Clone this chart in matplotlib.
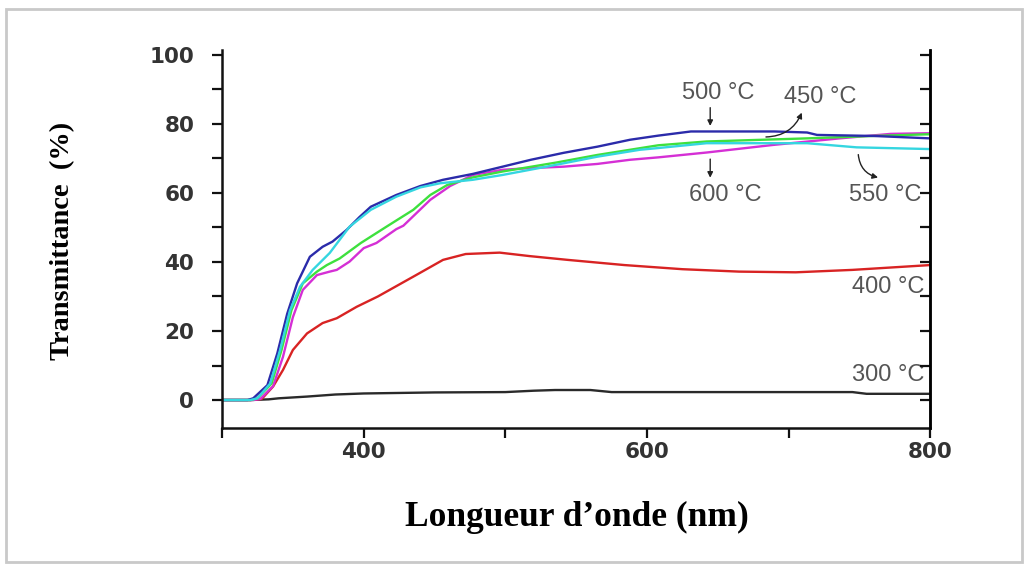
import matplotlib
matplotlib.use('Agg')
import matplotlib.pyplot as plt
import matplotlib.patches as mpatches
from matplotlib.ticker import MultipleLocator

# Wavelength (nm) and transmittance (%), one curve per
# annealing temperature.
wl_300 = [300, 320, 333, 340, 360, 380, 400, 450, 500, 520, 535, 560, 575, 700, 745, 755, 800]
tr_300 = [0, 0, 0.2, 0.5, 1.0, 1.6, 1.9, 2.2, 2.3, 2.7, 2.9, 2.9, 2.3, 2.3, 2.3, 1.8, 1.8]

wl_400 = [300, 320, 328, 336, 343, 350, 360, 371, 381, 395, 410, 437, 456, 472, 496,
          517, 544, 584, 625, 665, 705, 745, 800]
tr_400 = [0, 0, 0.3, 3.9, 8.7, 14.5, 19.3, 22.3, 23.7, 27.0, 30.0, 36.2, 40.6, 42.3, 42.7,
          41.7, 40.6, 39.1, 37.9, 37.2, 37.0, 37.7, 39.1]

wl_450 = [300, 320, 325, 335, 342, 349, 357, 367, 374, 383, 398, 416, 435, 447, 459,
          477, 498, 536, 565, 608, 642, 713, 760, 800]
tr_450 = [0, 0, 0.5, 4.8, 14.5, 26.0, 33.8, 37.2, 39.1, 41.0, 45.5, 50.2, 55.1, 59.4, 62.3,
          64.5, 66.2, 68.8, 71.0, 73.8, 74.9, 75.8, 76.5, 77.0]

wl_500 = [300, 318, 322, 332, 339, 346, 353, 362, 371, 378, 388, 397, 405, 423, 440,
          456, 477, 498, 518, 541, 565, 588, 608, 631, 690, 713, 720, 760, 800]
tr_500 = [0, 0, 0.5, 4.3, 13.5, 25.0, 33.8, 41.5, 44.4, 45.9, 49.3, 53.0, 56.0, 59.4, 62.0,
          63.8, 65.5, 67.6, 69.6, 71.6, 73.4, 75.4, 76.6, 77.8, 77.8, 77.5, 76.8, 76.5, 75.8]

wl_550 = [300, 320, 325, 334, 341, 348, 355, 364, 376, 390, 405, 423, 440, 454, 477,
          498, 529, 565, 595, 608, 642, 713, 748, 800]
tr_550 = [0, 0, 0.5, 4.8, 14.5, 26.0, 32.8, 37.7, 42.6, 50.2, 55.1, 58.9, 61.6, 62.8, 63.8,
          65.2, 67.6, 70.5, 72.5, 73.0, 74.4, 74.4, 73.2, 72.7]

wl_600 = [300, 322, 327, 336, 343, 350, 357, 367, 376, 381, 390, 400, 409, 423, 428,
          447, 461, 477, 498, 518, 541, 565, 588, 608, 642, 689, 736, 772, 800]
tr_600 = [0, 0, 0.3, 4.0, 12.5, 24.0, 31.9, 36.2, 37.2, 37.7, 40.1, 44.0, 45.5, 49.5, 50.5,
          58.0, 62.0, 65.2, 66.7, 67.2, 67.6, 68.4, 69.6, 70.3, 71.7, 73.9, 75.8, 77.1, 77.3]

series = [
    ('300', wl_300, tr_300, '#2a2a2a'),
    ('400', wl_400, tr_400, '#d82323'),
    ('600', wl_600, tr_600, '#d52fd5'),
    ('450', wl_450, tr_450, '#3ee03e'),
    ('500', wl_500, tr_500, '#2b2baa'),
    ('550', wl_550, tr_550, '#35d6e0'),
]

fig = plt.figure(figsize=(10.28, 5.65), dpi=100)
fig.patches.append(mpatches.Rectangle((0.006, 0.006), 0.988, 0.978,
                                      transform=fig.transFigure, fill=False,
                                      edgecolor='#c9c9c9', linewidth=2))

ax = fig.add_axes([0.216, 0.2425, 0.689, 0.669])
for name, wl, tr, col in series:
    ax.plot(wl, tr, color=col, linewidth=1.7, label=name + ' °C')

ax.set_xlim(300, 800)
ax.set_ylim(-8.1, 101.4)
ax.set_xticks([400, 600, 800])
ax.xaxis.set_minor_locator(MultipleLocator(100))
ax.set_yticks([0, 20, 40, 60, 80, 100])
ax.yaxis.set_minor_locator(MultipleLocator(10))

ax.spines['top'].set_visible(False)
for s in ['left', 'right', 'bottom']:
    ax.spines[s].set_linewidth(1.8)
    ax.spines[s].set_color('#111111')

ax.tick_params(axis='both', which='both', direction='out', width=1.6,
               color='#111111', length=7)
ax.tick_params(axis='y', pad=13)
ax.tick_params(axis='x', pad=3)
for lab in ax.get_xticklabels() + ax.get_yticklabels():
    lab.set_fontfamily('DejaVu Sans')
    lab.set_fontweight('bold')
    lab.set_fontsize(15.5)
    lab.set_color('#333333')

# right axis: inward ticks only
ax2 = ax.twinx()
ax2.set_ylim(ax.get_ylim())
ax2.set_yticks([0, 20, 40, 60, 80, 100])
ax2.yaxis.set_minor_locator(MultipleLocator(10))
ax2.tick_params(axis='y', which='both', direction='in', length=7, width=1.6,
                labelright=False, color='#111111')
for s in ['left', 'top', 'bottom']:
    ax2.spines[s].set_visible(False)
ax2.spines['right'].set_linewidth(1.8)

ax.set_xlabel('Longueur d\u2019onde (nm)', fontfamily='Liberation Serif',
              fontweight='bold', fontsize=25.5, va='center')
ax.xaxis.set_label_coords(0.501, -0.238)
ax.set_ylabel('Transmittance  (%)', fontfamily='Liberation Serif',
              fontweight='bold', fontsize=20.5, va='center')
ax.yaxis.set_label_coords(-0.2246, 0.495)

ann = dict(fontfamily='Liberation Sans', fontsize=17, color='#555555',
           ha='center', va='center')
ax.text(650, 89, '500 °C', **ann)
ax.text(722, 87.8, '450 °C', **ann)
ax.text(655, 59.4, '600 °C', **ann)
ax.text(768, 59.4, '550 °C', **ann)
ax.text(770, 32.8, '400 °C', **ann)
ax.text(770, 7.2, '300 °C', **ann)

arr = dict(arrowstyle='-|>', color='#222222', lw=1.0, mutation_scale=8)
ax.annotate('', xy=(644.6, 78.6), xytext=(644.6, 85.5), arrowprops=arr)
ax.annotate('', xy=(644.6, 63.6), xytext=(644.6, 70.6), arrowprops=arr)
ax.annotate('', xy=(710, 84), xytext=(682, 76.2),
            arrowprops=dict(arr, connectionstyle='arc3,rad=0.35'))
ax.annotate('', xy=(765, 64.3), xytext=(749, 71.9),
            arrowprops=dict(arr, connectionstyle='arc3,rad=0.4'))

plt.savefig('out.png', dpi=100)
